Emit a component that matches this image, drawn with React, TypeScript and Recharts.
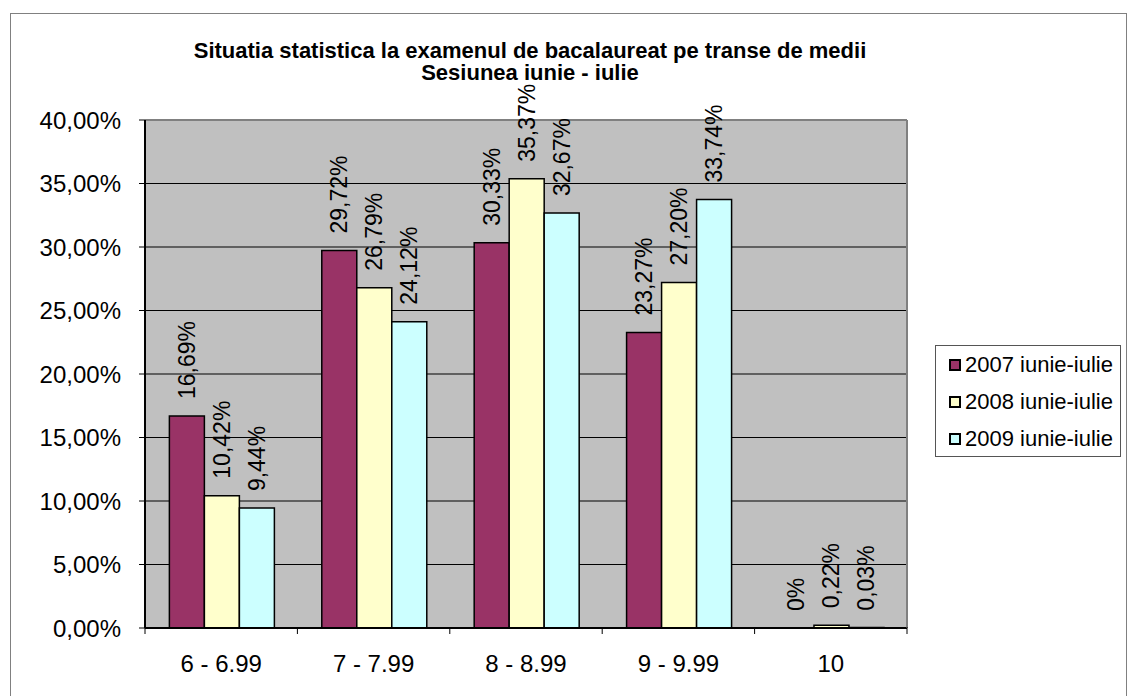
import React from "react";
import {
  BarChart, Bar, XAxis, YAxis, CartesianGrid, LabelList, ReferenceLine,
} from "recharts";

const categories = ["6 - 6.99", "7 - 7.99", "8 - 8.99", "9 - 9.99", "10"];
const y2007 = [16.69, 29.72, 30.33, 23.27, 0];
const y2008 = [10.42, 26.79, 35.37, 27.2, 0.22];
const y2009 = [9.44, 24.12, 32.67, 33.74, 0.03];
const yTicks = [0, 5, 10, 15, 20, 25, 30, 35, 40];

const series = [
  { key: "s2007", name: "2007 iunie-iulie", color: "#993366" },
  { key: "s2008", name: "2008 iunie-iulie", color: "#FFFFCC" },
  { key: "s2009", name: "2009 iunie-iulie", color: "#CCFFFF" },
];

const data = categories.map((c, i) => ({
  cat: c, s2007: y2007[i], s2008: y2008[i], s2009: y2009[i],
}));

const FONT = "'Liberation Sans', Arial, sans-serif";
const AXIS_FS = 24;
const LABEL_FS = 23;
const LEGEND_FS = 22;

const fmtPct = (v: number) => (v === 0 ? "0%" : v.toFixed(2).replace(".", ",") + "%");
const fmtTick = (v: number) => v.toFixed(2).replace(".", ",") + "%";

const BarLabel = (props: any) => {
  const { x, y, width, height, value } = props;
  const cx = Number(x) + Number(width) / 2;
  // y is the top of the bar (height may be zero for empty bars)
  const top = Math.min(Number(y), Number(y) + Number(height || 0));
  const ty = top - 17;
  return (
    <text
      x={cx} y={ty}
      transform={`rotate(-90 ${cx} ${ty})`}
      textAnchor="start" dominantBaseline="central"
      fontSize={LABEL_FS} fontFamily={FONT} fill="#000"
    >
      {fmtPct(Number(value))}
    </text>
  );
};

const XTick = (props: any) => {
  const { x, y, payload, index, visibleTicksCount, width } = props;
  const half = payload?.offset ?? (width / visibleTicksCount) / 2;
  const last = index === visibleTicksCount - 1;
  return (
    <g>
      <line x1={x - half} x2={x - half} y1={y - 9} y2={y - 2} stroke="#000" strokeWidth={1} />
      {last && <line x1={x + half} x2={x + half} y1={y - 9} y2={y - 2} stroke="#000" strokeWidth={1} />}
      <text x={x} y={y + 36} textAnchor="middle" fontSize={AXIS_FS} fontFamily={FONT} fill="#000">
        {payload.value}
      </text>
    </g>
  );
};

export default function App() {
  return (
    <div style={{ position: "absolute", left: 0, top: 0, width: 1128, height: 696, background: "#fff", overflow: "hidden", fontFamily: FONT }}>
      <div style={{ position: "absolute", left: 10, top: 13, width: 1117, height: 700, border: "1px solid #808080", boxSizing: "border-box" }} />
      <div style={{ position: "absolute", left: 80, width: 900, top: 40, textAlign: "center", fontWeight: "bold", fontSize: 22, lineHeight: "22px", color: "#000" }}>
        Situatia statistica la examenul de bacalaureat pe transe de medii
        <br />
        Sesiunea iunie - iulie
      </div>
      <div style={{ position: "absolute", left: 0, top: 0 }}>
        <BarChart
          width={1128} height={696} data={data}
          margin={{ top: 120, right: 220, bottom: 0, left: 10 }}
          barCategoryGap="16%" barGap={0}
        >
          <CartesianGrid vertical={false} stroke="#000" strokeWidth={1} fill="#C0C0C0" fillOpacity={1} />
          <ReferenceLine y={40} stroke="#808080" strokeWidth={2} />
          <XAxis
            dataKey="cat" height={68} tickLine={false}
            axisLine={{ stroke: "#000", strokeWidth: 2 }}
            tick={<XTick />} interval={0}
          />
          <YAxis
            width={135} domain={[0, 40]} ticks={yTicks} interval={0}
            tickFormatter={fmtTick} tickMargin={18}
            tick={{ fontSize: AXIS_FS, fill: "#000", fontFamily: FONT }}
            tickLine={{ stroke: "#000" }} axisLine={{ stroke: "#000", strokeWidth: 2 }}
          />
          <YAxis
            yAxisId="r" orientation="right" width={1} domain={[0, 40]}
            tick={false} tickLine={false} axisLine={{ stroke: "#808080", strokeWidth: 2 }}
          />
          {series.map((s) => (
            <Bar key={s.key} dataKey={s.key} name={s.name} fill={s.color}
              stroke="#000" strokeWidth={1.5} isAnimationActive={false}
              minPointSize={(v: number) => (v === 0 ? 0.01 : 0)}>
              <LabelList dataKey={s.key} content={<BarLabel />} />
            </Bar>
          ))}
        </BarChart>
      </div>
      <div style={{ position: "absolute", left: 935, top: 345, width: 186, height: 112, border: "1px solid #555", boxSizing: "border-box", background: "#fff" }}>
        {series.map((s, i) => (
          <div key={s.key} style={{ position: "absolute", left: 13, top: 7 + i * 37, height: 24, display: "flex", alignItems: "center", fontSize: LEGEND_FS, color: "#000", whiteSpace: "nowrap" }}>
            <span style={{ display: "inline-block", width: 8, height: 8, border: "2px solid #000", background: s.color, marginRight: 4 }} />
            {s.name}
          </div>
        ))}
      </div>
    </div>
  );
}
